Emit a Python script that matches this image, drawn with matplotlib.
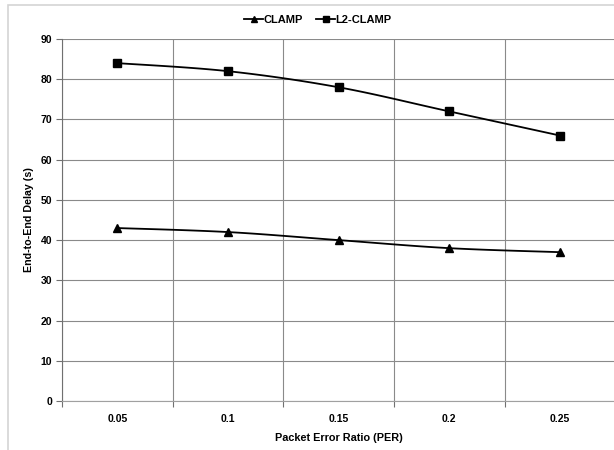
import numpy as np
import matplotlib
matplotlib.use("Agg")
import matplotlib.pyplot as plt
from matplotlib.patches import Rectangle
from matplotlib.lines import Line2D

categories = ["0.05", "0.1", "0.15", "0.2", "0.25"]
clamp = [43, 42, 40, 38, 37]
l2_clamp = [84, 82, 78, 72, 66]
y_ticks = [0, 10, 20, 30, 40, 50, 60, 70, 80, 90]

plt.rcParams['font.family'] = ['Liberation Sans', 'DejaVu Sans']
plt.rcParams['font.weight'] = 'bold'

fig = plt.figure(figsize=(6.14, 4.5), dpi=100)
fig.patch.set_facecolor('white')
fig.patches.append(Rectangle((8/614, -0.1), 1.2, (445)/450 + 0.1, transform=fig.transFigure,
                             fill=False, edgecolor='#d4d4d4', linewidth=1.2))

ax = fig.add_axes([62/614, 49/450, 1 - 62/614 + 0.002, (401-39)/450])
x = np.arange(len(categories)) + 0.5


def smooth(xs, ys, n=30):
    xs = np.asarray(xs, float); ys = np.asarray(ys, float)
    px, py = [], []
    m = len(xs)
    for i in range(m - 1):
        p0 = (xs[max(i-1, 0)], ys[max(i-1, 0)])
        p1 = (xs[i], ys[i]); p2 = (xs[i+1], ys[i+1])
        p3 = (xs[min(i+2, m-1)], ys[min(i+2, m-1)])
        c1 = (p1[0] + (p2[0]-p0[0])/6, p1[1] + (p2[1]-p0[1])/6)
        c2 = (p2[0] - (p3[0]-p1[0])/6, p2[1] - (p3[1]-p1[1])/6)
        t = np.linspace(0, 1, n)
        bx = (1-t)**3*p1[0] + 3*(1-t)**2*t*c1[0] + 3*(1-t)*t**2*c2[0] + t**3*p2[0]
        by = (1-t)**3*p1[1] + 3*(1-t)**2*t*c1[1] + 3*(1-t)*t**2*c2[1] + t**3*p2[1]
        px.extend(bx); py.extend(by)
    return px, py

for vals, mk, ms in [(clamp, '^', 6), (l2_clamp, 's', 5.2)]:
    sx, sy = smooth(x, vals)
    ax.plot(sx, sy, color='black', lw=1.3, zorder=3)
    ax.plot(x, vals, linestyle='none', marker=mk, ms=ms, color='black', zorder=4)

ax.set_xlim(0, 5)
ax.set_ylim(0, 90)
ax.set_yticks(y_ticks)
ax.set_xticks(np.arange(0, 6))
ax.set_xticklabels([])
ax.set_xticks(x, minor=True)
ax.set_xticklabels(categories, minor=True)
ax.tick_params(axis='x', which='minor', length=0, pad=9, labelsize=7.5)
ax.tick_params(axis='x', which='major', length=4, color='#707070', width=0.8)
ax.tick_params(axis='y', length=4, color='#707070', width=0.8, labelsize=7.5, pad=3)
ax.grid(True, which='major', color='#8a8a8a', linewidth=0.8)
ax.set_axisbelow(True)
for s in ['top', 'right']:
    ax.spines[s].set_visible(False)
ax.spines['left'].set_color('#707070')
ax.spines['bottom'].set_color('#a0a0a0')
ax.spines['left'].set_linewidth(0.8)
ax.spines['bottom'].set_linewidth(0.8)

ax.set_ylabel('End-to-End Delay (s)', fontsize=7.7, fontweight='bold', labelpad=5)
ax.set_xlabel('Packet Error Ratio (PER)', fontsize=7.8, fontweight='bold', labelpad=7)

handles = [Line2D([], [], color='black', lw=1.3, marker='^', ms=5),
           Line2D([], [], color='black', lw=1.3, marker='s', ms=4.5)]
fig.legend(handles, ['CLAMP', 'L2-CLAMP'], loc='center', bbox_to_anchor=(318/614, 1 - 20/450),
           ncol=2, frameon=False, handlelength=1.7, handletextpad=0.05,
           columnspacing=1.2, prop={'weight': 'bold', 'size': 8})

fig.savefig('out.png', dpi=100)
